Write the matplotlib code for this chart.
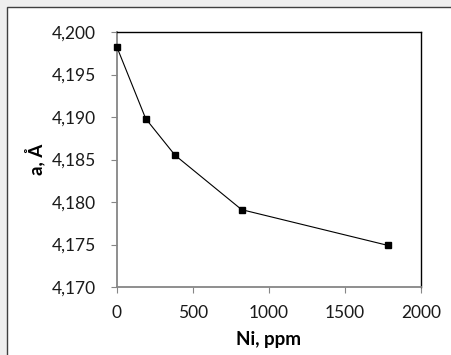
import numpy as np
import matplotlib.pyplot as plt
from matplotlib.patches import Rectangle
from matplotlib.ticker import FuncFormatter

# data
ni_ppm = [0, 189, 382, 820, 1781]
lattice_a = [4.1982, 4.1898, 4.1855, 4.1791, 4.1749]

x_ticks = [0, 500, 1000, 1500, 2000]
y_ticks = [4.170, 4.175, 4.180, 4.185, 4.190, 4.195, 4.200]

plt.rcParams['font.family'] = ['Lato', 'DejaVu Sans']

W, H = 452, 355
fig = plt.figure(figsize=(W / 100, H / 100), dpi=100)
fig.patch.set_facecolor('#efefef')

# white chart area with a thin border (behind the axes)
fig.patches.append(Rectangle((7 / W, -0.01), 1.02, 1 - 7 / H + 0.01,
                             transform=fig.transFigure, facecolor='white',
                             edgecolor='#404040', linewidth=1.0, zorder=-5))

ax = fig.add_axes([117 / W, 1 - 287 / H, (421 - 117) / W, (287 - 32) / H])
ax.plot(ni_ppm, lattice_a, color='black', linewidth=0.8, marker='s',
        markersize=5, markerfacecolor='black', markeredgecolor='black',
        clip_on=False, zorder=3)

ax.set_xlim(0, 2000)
ax.set_ylim(4.170, 4.200)
ax.set_xticks(x_ticks)
ax.set_yticks(y_ticks)
ax.yaxis.set_major_formatter(FuncFormatter(lambda v, p: ('%.3f' % v).replace('.', ',')))

for side in ['left', 'bottom']:
    ax.spines[side].set_color('#868686')
    ax.spines[side].set_linewidth(1.3)
for side in ['top', 'right']:
    ax.spines[side].set_color('black')
    ax.spines[side].set_linewidth(1.0)

ax.tick_params(axis='both', direction='out', length=4, width=0.8,
               color='#868686', labelsize=12.5, labelcolor='#1a1a1a')
ax.tick_params(axis='x', pad=9)
ax.tick_params(axis='y', pad=11)

ax.set_xlabel('Ni, ppm', fontsize=13.5, fontweight='bold', labelpad=7)
ax.set_ylabel('a, Å', fontsize=13.5, fontweight='bold', labelpad=5)

fig.savefig('out.png', dpi=100, facecolor=fig.get_facecolor())
